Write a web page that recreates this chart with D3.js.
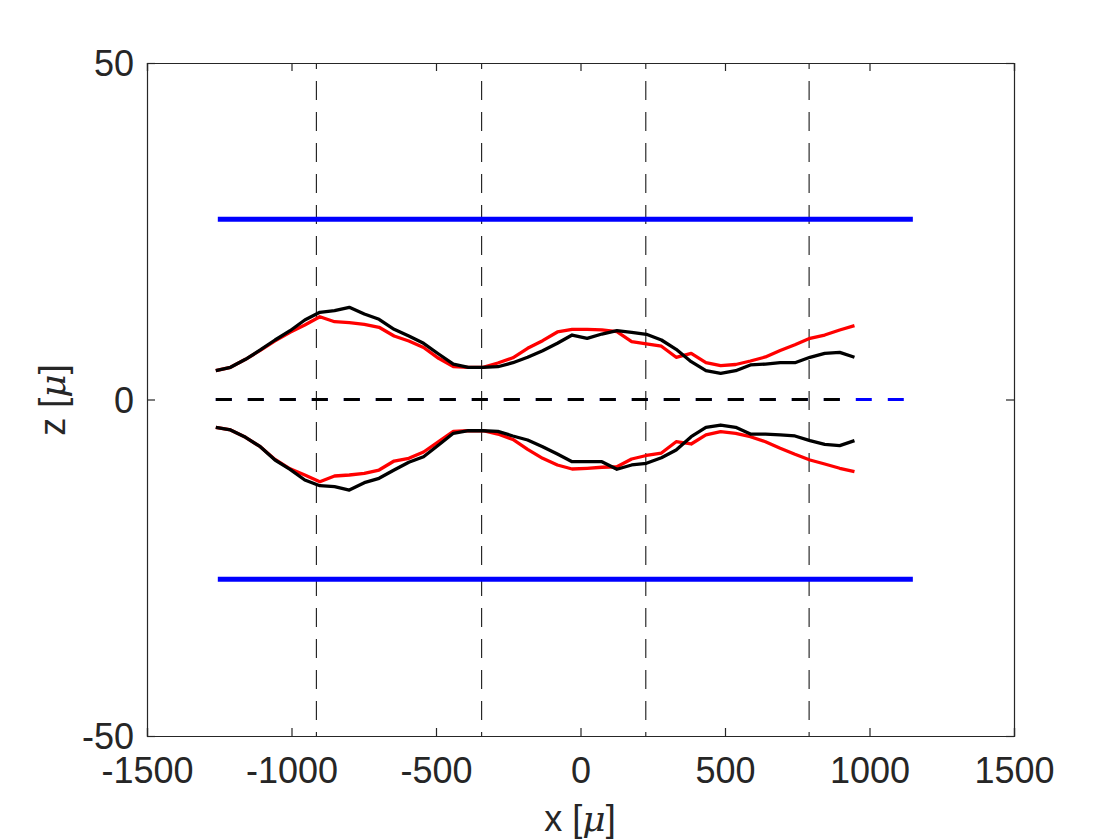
<!DOCTYPE html>
<html>
<head>
<meta charset="utf-8">
<script src="https://cdn.jsdelivr.net/npm/d3@7"></script>
<style>
  body { margin: 0; background: #fff; }
  text { font-family: "Liberation Sans", Arial, Helvetica, sans-serif; fill: #262626; }
</style>
</head>
<body>
<div id="chart"></div>
<script>
// x positions of the measured profile (micron)
var xs = [-1262, -1211, -1159, -1108, -1057, -1005, -954, -902, -851, -800,
          -748, -697, -645, -594, -543, -491, -440, -388, -337, -286,
          -234, -183, -131, -80, -29, 23, 74, 126, 177, 228,
          280, 331, 383, 434, 485, 537, 588, 640, 691, 742,
          794, 845, 897, 948];

var upperBlack = [4.28, 4.78, 5.97, 7.36, 8.84, 10.22, 11.81, 12.96, 13.19, 13.70,
                  12.70, 11.92, 10.43, 9.43, 8.35, 6.76, 5.27, 4.78, 4.78, 4.87,
                  5.47, 6.27, 7.25, 8.35, 9.58, 9.09, 9.73, 10.22, 9.99, 9.69,
                  8.84, 7.46, 5.62, 4.28, 3.89, 4.28, 5.13, 5.27, 5.47, 5.47,
                  6.27, 6.86, 7.01, 6.27];

var upperRed = [4.28, 4.78, 5.97, 7.30, 8.70, 10.00, 11.07, 12.30, 11.56, 11.41,
                11.17, 10.73, 9.43, 8.69, 7.73, 6.12, 4.90, 4.78, 4.78, 5.42,
                6.20, 7.61, 8.74, 10.03, 10.43, 10.43, 10.36, 10.07, 8.59, 8.25,
                7.92, 6.27, 6.86, 5.47, 5.02, 5.20, 5.72, 6.32, 7.28, 8.14,
                9.09, 9.58, 10.33, 10.97];

var lowerBlack = [-4.13, -4.53, -5.62, -7.01, -8.99, -10.37, -11.96, -12.81, -12.96, -13.45,
                  -12.36, -11.71, -10.48, -9.33, -8.50, -6.76, -5.02, -4.64, -4.64, -4.73,
                  -5.42, -6.02, -7.01, -8.10, -9.24, -9.24, -9.24, -10.37, -9.73, -9.48,
                  -8.65, -7.50, -5.53, -4.13, -3.79, -4.13, -5.13, -5.13, -5.27, -5.42,
                  -6.12, -6.66, -6.86, -6.12];

var lowerRed = [-4.13, -4.53, -5.62, -7.01, -8.90, -10.30, -11.22, -12.21, -11.37, -11.22,
                -10.97, -10.48, -9.14, -8.74, -7.80, -6.27, -4.75, -4.64, -4.64, -5.13,
                -5.94, -7.40, -8.74, -9.73, -10.33, -10.22, -10.07, -9.99, -8.84, -8.32,
                -7.95, -6.27, -6.61, -5.27, -4.78, -5.02, -5.53, -6.27, -7.25, -8.14,
                -8.99, -9.58, -10.22, -10.73];

// walls and axis
var wallX = [-1255, 1150];
var wallTop = [26.8, 26.8];
var wallBottom = [-26.7, -26.7];
var axisBlueX = [-1262, 1150];
var axisBlackX = [-1262, 948];

// vertical reference lines
var markers = [-914, -342, 226, 791];

var xTicks = [-1500, -1000, -500, 0, 500, 1000, 1500];
var yTicks = [-50, 0, 50];

var width = 1120;
var height = 840;
var mLeft = 147, mRight = 1014, mTop = 63, mBottom = 736;

var svg = d3.select('#chart').append('svg')
    .attr('width', width)
    .attr('height', height);

var x = d3.scaleLinear().domain([-1500, 1500]).range([mLeft, mRight]);
var y = d3.scaleLinear().domain([-50, 50]).range([mBottom, mTop]);

var line = d3.line()
    .x(function(d) { return x(d[0]); })
    .y(function(d) { return y(d[1]); });

function pairs(a, b) {
    return a.map(function(v, i) { return [v, b[i]]; });
}

// dashed vertical markers
svg.selectAll('.marker')
    .data(markers)
    .enter().append('line')
        .attr('class', 'marker')
        .attr('x1', function(d) { return x(d); })
        .attr('x2', function(d) { return x(d); })
        .attr('y1', y(50))
        .attr('y2', y(-50))
        .attr('stroke', '#000')
        .attr('stroke-width', 1)
        .attr('stroke-dasharray', '19,12')
        .attr('stroke-dashoffset', 13);

// blue walls
[wallTop, wallBottom].forEach(function(w) {
    svg.append('path')
        .attr('d', line(pairs(wallX, w)))
        .attr('fill', 'none')
        .attr('stroke', '#0000ff')
        .attr('stroke-width', 5);
});

// centre line, blue under black
svg.append('path')
    .attr('d', line(pairs(axisBlueX, [0, 0])))
    .attr('fill', 'none')
    .attr('stroke', '#0000ff')
    .attr('stroke-width', 3)
    .attr('stroke-dasharray', '16,16');

svg.append('path')
    .attr('d', line(pairs(axisBlackX, [0, 0])))
    .attr('fill', 'none')
    .attr('stroke', '#000')
    .attr('stroke-width', 3)
    .attr('stroke-dasharray', '16,16');

// profiles
var curves = [
    {z: upperRed, c: '#ff0000'},
    {z: lowerRed, c: '#ff0000'},
    {z: upperBlack, c: '#000000'},
    {z: lowerBlack, c: '#000000'}
];

svg.selectAll('.curve')
    .data(curves)
    .enter().append('path')
        .attr('class', 'curve')
        .attr('d', function(d) { return line(pairs(xs, d.z)); })
        .attr('fill', 'none')
        .attr('stroke', function(d) { return d.c; })
        .attr('stroke-width', 3.3)
        .attr('stroke-linejoin', 'round');

// axes, ticks inward on all four sides
var fmt = function(d) { return String(d); };
var gx = svg.append('g')
    .attr('transform', 'translate(0,' + mBottom + ')')
    .call(d3.axisBottom(x).tickValues(xTicks).tickSize(-8).tickPadding(21).tickFormat(fmt));
var gxTop = svg.append('g')
    .attr('transform', 'translate(0,' + mTop + ')')
    .call(d3.axisTop(x).tickValues(xTicks).tickSize(-8).tickFormat(''));
var gy = svg.append('g')
    .attr('transform', 'translate(' + mLeft + ',0)')
    .call(d3.axisLeft(y).tickValues(yTicks).tickSize(-8).tickPadding(13).tickFormat(fmt));
var gyRight = svg.append('g')
    .attr('transform', 'translate(' + mRight + ',0)')
    .call(d3.axisRight(y).tickValues(yTicks).tickSize(-8).tickFormat(''));

[gx, gxTop, gy, gyRight].forEach(function(g) {
    g.select('.domain').attr('stroke', '#262626').attr('stroke-width', 1.2);
    g.selectAll('.tick line').attr('stroke', '#262626').attr('stroke-width', 1.2);
    g.selectAll('.tick text')
        .style('font-size', '36px')
        .style('font-family', '"Liberation Sans", Arial, sans-serif')
        .attr('fill', '#262626');
});
gx.selectAll('.tick text').attr('dy', '0.71em');
gy.selectAll('.tick text').attr('dy', '0.36em');

// axis labels
var xl = svg.append('text')
    .attr('x', 580)
    .attr('y', 831)
    .attr('text-anchor', 'middle')
    .style('font-size', '36px');
xl.append('tspan').text('x [');
xl.append('tspan').text('μ')
    .style('font-family', '"DejaVu Serif", "Liberation Serif", serif')
    .style('font-style', 'italic');
xl.append('tspan').text(']');

var yl = svg.append('text')
    .attr('transform', 'translate(65,400) rotate(-90)')
    .attr('text-anchor', 'middle')
    .style('font-size', '36px');
yl.append('tspan').text('z [');
yl.append('tspan').text('μ')
    .style('font-family', '"DejaVu Serif", "Liberation Serif", serif')
    .style('font-style', 'italic');
yl.append('tspan').text(']');
</script>
</body>
</html>
